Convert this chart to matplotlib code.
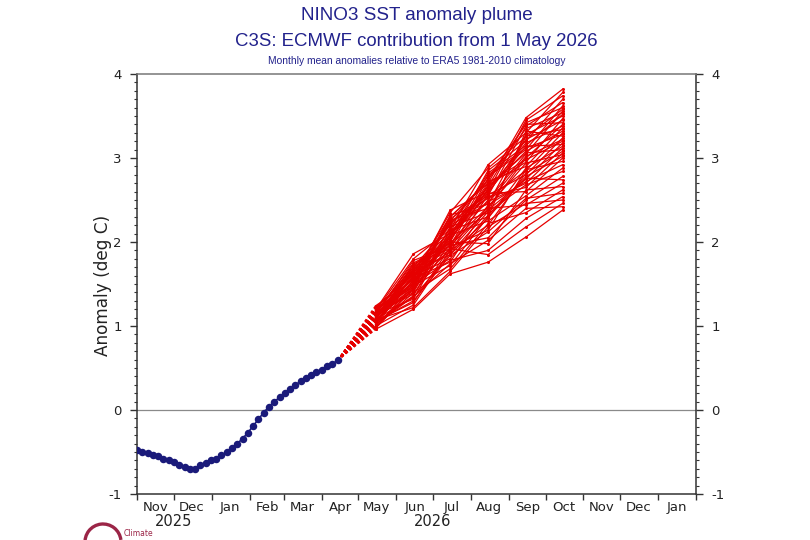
import numpy as np
import pandas as pd
import matplotlib
matplotlib.use('Agg')
import matplotlib.pyplot as plt
import matplotlib.dates as mdates
from matplotlib.patches import Arc

# ---------------- data ----------------
title_lines = ["NINO3 SST anomaly plume",
               "C3S: ECMWF contribution from 1 May 2026"]
subtitle = "Monthly mean anomalies relative to ERA5 1981-2010 climatology"
y_label = "Anomaly (deg C)"

obs_first_date = "2025-11-01"
obs_last_date = "2026-04-14"
obs_values = [-0.48, -0.50, -0.51, -0.53, -0.55, -0.58, -0.60, -0.62, -0.65, -0.68,
              -0.70, -0.70, -0.66, -0.63, -0.60, -0.58, -0.54, -0.50, -0.45, -0.40,
              -0.34, -0.27, -0.19, -0.11, -0.03, 0.04, 0.10, 0.15, 0.20, 0.25,
              0.30, 0.34, 0.38, 0.42, 0.45, 0.48, 0.52, 0.55, 0.59]

fc_dates = ["2026-05-15", "2026-06-15", "2026-07-15", "2026-08-15", "2026-09-15", "2026-10-15"]
may = [1.22, 1.18, 1.24, 1.15, 1.20, 1.12, 1.19, 1.10, 1.16, 1.21, 1.08, 1.14, 1.17,
       1.05, 1.13, 1.20, 1.09, 1.11, 1.15, 1.07, 1.18, 1.12, 1.04, 1.16, 1.10, 1.13,
       1.06, 1.19, 1.09, 1.14, 1.02, 1.11, 1.07, 1.15, 1.03, 1.10, 1.06, 1.12, 1.01,
       1.08, 1.04, 1.13, 1.00, 1.09, 0.99, 1.05, 0.98, 1.07, 0.97, 1.02, 0.96]
jun = [1.62, 1.80, 1.55, 1.72, 1.48, 1.66, 1.86, 1.58, 1.75, 1.50, 1.68, 1.44, 1.70,
       1.60, 1.78, 1.46, 1.64, 1.52, 1.40, 1.74, 1.56, 1.66, 1.36, 1.62, 1.70, 1.42,
       1.58, 1.50, 1.65, 1.32, 1.55, 1.68, 1.46, 1.38, 1.60, 1.52, 1.28, 1.57, 1.44,
       1.34, 1.62, 1.48, 1.25, 1.54, 1.40, 1.30, 1.50, 1.22, 1.45, 1.35, 1.20]
jul = [2.30, 2.15, 2.38, 2.05, 2.28, 2.20, 2.10, 2.35, 1.98, 2.25, 2.12, 2.32, 2.02,
       2.22, 1.95, 2.26, 2.08, 2.30, 2.18, 1.92, 2.24, 2.00, 2.14, 1.88, 2.20, 2.06,
       1.96, 2.16, 1.85, 2.10, 2.02, 1.90, 2.12, 1.98, 1.80, 2.05, 1.94, 1.76, 2.08,
       1.86, 1.96, 1.72, 1.90, 2.00, 1.68, 1.84, 1.78, 1.65, 1.92, 1.74, 1.62]
aug = [2.70, 2.92, 2.60, 2.85, 2.55, 2.78, 2.66, 2.88, 2.50, 2.74, 2.82, 2.45, 2.68,
       2.58, 2.76, 2.40, 2.62, 2.72, 2.35, 2.64, 2.52, 2.80, 2.30, 2.56, 2.46, 2.70,
       2.38, 2.60, 2.28, 2.48, 2.66, 2.20, 2.54, 2.42, 2.32, 2.58, 2.14, 2.44, 2.25,
       2.36, 2.05, 2.30, 2.40, 1.98, 2.22, 2.12, 1.90, 2.18, 1.85, 2.02, 1.76]
sep = [3.48, 3.30, 3.45, 3.20, 3.38, 3.10, 3.42, 3.25, 3.05, 3.35, 3.15, 3.28, 2.95,
       3.22, 3.40, 3.00, 3.18, 2.90, 3.26, 3.08, 2.85, 3.12, 3.32, 2.80, 3.02, 2.98,
       2.75, 3.14, 2.88, 2.70, 3.06, 2.82, 2.65, 2.94, 2.78, 2.60, 2.86, 2.72, 2.55,
       2.68, 2.50, 2.76, 2.44, 2.62, 2.35, 2.52, 2.28, 2.46, 2.18, 2.40, 2.06]
oct_ = [3.82, 3.78, 3.74, 3.70, 3.66, 3.62, 3.60, 3.58, 3.56, 3.54, 3.52, 3.50, 3.47,
        3.45, 3.42, 3.40, 3.38, 3.36, 3.34, 3.32, 3.30, 3.28, 3.26, 3.24, 3.22, 3.20,
        3.18, 3.16, 3.14, 3.12, 3.10, 3.08, 3.06, 3.04, 3.02, 3.00, 2.96, 2.92, 2.88,
        2.84, 2.78, 2.74, 2.70, 2.66, 2.62, 2.58, 2.54, 2.50, 2.46, 2.42, 2.38]

x_start = "2025-11-01"
x_end = "2027-02-01"
y_min, y_max = -1, 4
year_labels = [("2025-12-01", "2025"), ("2026-07-01", "2026")]

# ---------------- plot ----------------
navy = '#1a1a7a'
red = '#e60000'
title_col = '#22228c'

fig = plt.figure(figsize=(8.1, 5.4), dpi=100)
ax = fig.add_axes([137/810, 1-494/540, (696-137)/810, (494-74)/540])

obs_dates = pd.date_range(obs_first_date, obs_last_date, periods=len(obs_values))
fcd = pd.to_datetime(fc_dates)
members = np.array([may, jun, jul, aug, sep, oct_]).T

ax.axhline(0, color='#8a8a8a', lw=0.9, zorder=1)

last_d = obs_dates[-1]
last_v = obs_values[-1]
for m in members:
    ax.plot([last_d, fcd[0]], [last_v, m[0]], color=red, lw=1.0,
            dashes=(2.0, 1.8), zorder=2)
    ax.plot(fcd, m, color=red, lw=0.9, marker='o', markersize=2.2,
            markeredgewidth=0, zorder=3)

ax.plot(obs_dates, obs_values, color=navy, lw=1.2, marker='o', markersize=5.4,
        markeredgewidth=0, zorder=4)

ax.set_xlim(pd.Timestamp(x_start), pd.Timestamp(x_end))
ax.set_ylim(y_min, y_max)

ax.xaxis.set_major_locator(mdates.MonthLocator())
ax.xaxis.set_major_formatter(plt.NullFormatter())
ax.xaxis.set_minor_locator(mdates.MonthLocator(bymonthday=16))
ax.xaxis.set_minor_formatter(mdates.DateFormatter('%b'))
ax.tick_params(axis='x', which='major', direction='out', length=4, width=1.0, color='#333333')
ax.tick_params(axis='x', which='minor', length=0, labelsize=9.5, pad=5, labelcolor='#222222')

ax.set_yticks(np.arange(y_min, y_max + 1, 1))
ax.set_yticklabels([str(v) for v in range(y_min, y_max + 1)])
ax.yaxis.set_minor_locator(matplotlib.ticker.MultipleLocator(0.1))
ax.tick_params(axis='y', which='major', direction='out', length=5, width=1.0,
               left=True, right=True, labelleft=True, labelright=True,
               labelsize=9.5, pad=6, color='#333333', labelcolor='#222222')
ax.tick_params(axis='y', which='minor', direction='out', length=2.5, width=0.8,
               left=True, right=True, color='#333333')

for s in ax.spines.values():
    s.set_color('#333333')
    s.set_linewidth(1.1)
ax.spines['top'].set_color('#777777')

fig.text(103/810, 1-285/540, y_label, rotation=90, ha='center', va='center',
         fontsize=12.2, color='#222222')

for d, t in year_labels:
    ax.annotate(t, xy=(mdates.date2num(pd.Timestamp(d)), 0),
                xycoords=ax.get_xaxis_transform(),
                xytext=(0, -28), textcoords='offset pixels', ha='center', va='center',
                fontsize=10.5, color='#222222')

fig.text(416.5/810, 1-16/540, title_lines[0], ha='center', va='center',
         fontsize=13.6, color=title_col, family='Liberation Sans')
fig.text(416.5/810, 1-42/540, title_lines[1], ha='center', va='center',
         fontsize=13.4, color=title_col, family='Liberation Sans')
fig.text(416.5/810, 1-61/540, subtitle, ha='center', va='center',
         fontsize=7.4, color=title_col, family='Liberation Sans')

# partial logo at bottom-left
logo_col = '#9b2547'
arc = Arc((103/810, 1-542/540), 36/810, 36/540, theta1=10, theta2=190,
          transform=fig.transFigure, color=logo_col, lw=2.4)
fig.add_artist(arc)
fig.text(124/810, 1-533/540, "Climate", fontsize=5.5, color=logo_col,
         ha='left', va='center')

fig.savefig('out.png', dpi=100)
